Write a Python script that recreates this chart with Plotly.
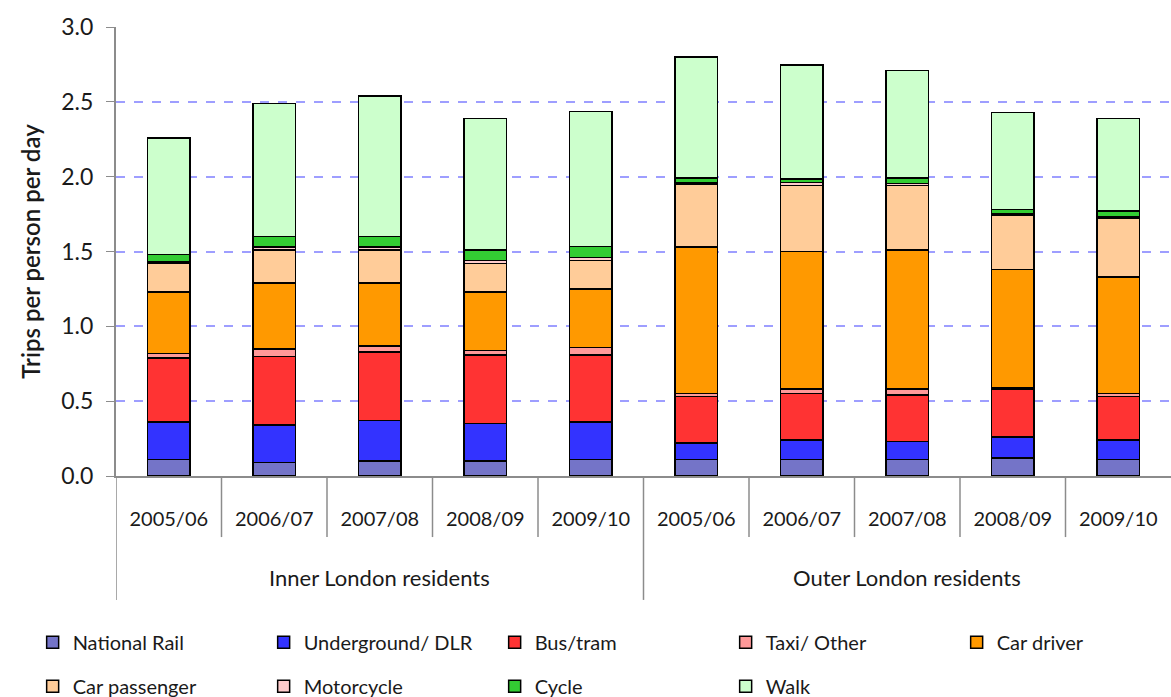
import plotly.graph_objects as go

# Trips per person per day by main mode, London residents
periods = ["2005/06", "2006/07", "2007/08", "2008/09", "2009/10",
           "2005/06", "2006/07", "2007/08", "2008/09", "2009/10"]
groups = ["Inner London residents"] * 5 + ["Outer London residents"] * 5

national_rail = [0.11, 0.09, 0.10, 0.10, 0.11, 0.11, 0.11, 0.11, 0.12, 0.11]
underground_dlr = [0.25, 0.25, 0.27, 0.25, 0.25, 0.11, 0.13, 0.12, 0.14, 0.13]
bus_tram = [0.43, 0.46, 0.46, 0.46, 0.45, 0.31, 0.31, 0.31, 0.32, 0.29]
taxi_other = [0.03, 0.05, 0.04, 0.03, 0.05, 0.02, 0.03, 0.04, 0.01, 0.02]
car_driver = [0.41, 0.44, 0.42, 0.39, 0.39, 0.98, 0.92, 0.93, 0.79, 0.78]
car_passenger = [0.19, 0.22, 0.22, 0.19, 0.19, 0.42, 0.44, 0.43, 0.36, 0.39]
motorcycle = [0.01, 0.02, 0.02, 0.02, 0.02, 0.01, 0.02, 0.015, 0.01, 0.01]
cycle = [0.05, 0.07, 0.07, 0.07, 0.075, 0.03, 0.025, 0.035, 0.03, 0.04]
walk = [0.78, 0.89, 0.94, 0.88, 0.90, 0.81, 0.76, 0.72, 0.65, 0.62]

modes = [
    ("National Rail", national_rail, "#7474C8"),
    ("Underground/ DLR", underground_dlr, "#3333FF"),
    ("Bus/tram", bus_tram, "#FF3333"),
    ("Taxi/ Other", taxi_other, "#FF9999"),
    ("Car driver", car_driver, "#FF9900"),
    ("Car passenger", car_passenger, "#FFCC99"),
    ("Motorcycle", motorcycle, "#FFCCCC"),
    ("Cycle", cycle, "#33CC33"),
    ("Walk", walk, "#CCFFCC"),
]

FONT = "Lato"
TEXT = "#1A1A1A"
AXIS = "#8C8C8C"
xpos = list(range(len(periods)))

fig = go.Figure()
for k, (name, values, color) in enumerate(modes):
    fig.add_trace(go.Bar(
        x=xpos, y=values, name=name, width=0.4,
        marker=dict(color=color, line=dict(color="#000000", width=1.5)),
        legend="legend" if k < 5 else "legend2",
    ))

# Category and group separators below the axis
shapes = []
for i in range(1, len(periods)):
    if groups[i] == groups[i - 1]:
        shapes.append(dict(type="line", xref="x", yref="paper",
                           x0=i - 0.5, x1=i - 0.5, y0=0, y1=-0.136,
                           line=dict(color=AXIS, width=1.5)))
group_edges = [0] + [i for i in range(1, len(periods)) if groups[i] != groups[i - 1]]
for i in group_edges:
    shapes.append(dict(type="line", xref="x", yref="paper",
                       x0=i - 0.5, x1=i - 0.5, y0=0, y1=-0.276,
                       line=dict(color=AXIS, width=1.5)))

annotations = []
for g in dict.fromkeys(groups):
    idx = [i for i, gg in enumerate(groups) if gg == g]
    annotations.append(dict(text=g, xref="x", yref="paper",
                            x=(idx[0] + idx[-1]) / 2, y=-0.225,
                            showarrow=False, yanchor="middle",
                            font=dict(family=FONT, size=22, color=TEXT)))

legend_common = dict(orientation="h", xanchor="left", yanchor="middle",
                     x=-0.079, traceorder="normal",
                     entrywidth=186, entrywidthmode="pixels",
                     font=dict(family=FONT, size=20, color=TEXT),
                     bgcolor="rgba(0,0,0,0)")

fig.update_layout(
    width=1171, height=697,
    margin=dict(l=116, r=0, t=27, b=221, autoexpand=False),
    paper_bgcolor="white", plot_bgcolor="white",
    barmode="stack", bargap=0.6,
    showlegend=True,
    legend=dict(y=-0.37, **legend_common),
    legend2=dict(y=-0.468, **legend_common),
    shapes=shapes, annotations=annotations,
    xaxis=dict(range=[-0.5, len(periods) - 0.5], tickvals=xpos, ticktext=periods,
               showline=True, linecolor=AXIS, linewidth=2,
               showgrid=False, zeroline=False, ticks="outside", ticklen=24,
               tickcolor="rgba(0,0,0,0)",
               tickfont=dict(family=FONT, size=20, color=TEXT)),
    yaxis=dict(range=[0, 3.0], tickvals=[0, 0.5, 1.0, 1.5, 2.0, 2.5, 3.0],
               tickformat=".1f", showline=True, linecolor=AXIS, linewidth=2,
               ticks="outside", ticklen=8, tickcolor=AXIS, ticklabelstandoff=8,
               showgrid=True, gridcolor="#9E9EFF", griddash="dash", gridwidth=1.5,
               zeroline=False,
               tickfont=dict(family=FONT, size=23, color=TEXT),
               title=dict(text="Trips per person per day", standoff=14,
                          font=dict(family=FONT, size=24, color=TEXT,
                                    weight=600))),
)

fig.write_html("out.html")
